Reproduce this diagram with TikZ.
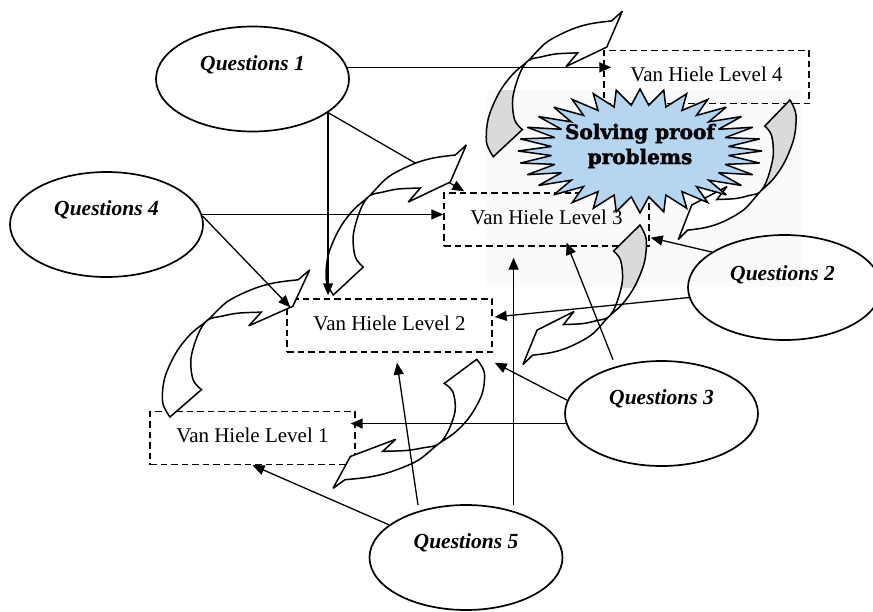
\documentclass[tikz,border=0pt]{standalone}
\usepackage{fontspec}
\setmainfont{Liberation Serif}
\newfontfamily\burstfont[FakeBold=2]{DejaVu Serif}
\usetikzlibrary{arrows.meta,shapes.geometric,calc}

\definecolor{burstblue}{RGB}{180,214,240}
\definecolor{hazegrey}{RGB}{250,250,250}
\definecolor{tailgrey}{RGB}{218,218,218}

% twisted ribbon arrow: tail cut at the origin, head up and to the right
\def\twistfull{(0,0) -- plot[smooth,tension=0.55] coordinates {(30,-28) (22,-38) (20,-60) (27,-85) (36,-99) (50,-103) (65,-106) (87,-107)}
  -- (75,-93) -- (117,-113) -- (133,-150)
  -- plot[smooth,tension=0.55] coordinates {(122,-140) (100,-137) (80,-131) (55,-118) (36,-99) (20,-85) (6,-66) (-5,-40) (-7,-15) (0,0)} -- cycle}
% the tail face of the ribbon, up to the twist
\def\twisttail{(0,0) -- plot[smooth,tension=0.55] coordinates {(30,-28) (22,-38) (20,-60) (27,-85) (36,-99)}
  -- plot[smooth,tension=0.55] coordinates {(36,-99) (20,-85) (6,-66) (-5,-40) (-7,-15) (0,0)} -- cycle}

\tikzset{
  conn/.style={line width=1.3pt, -{Triangle[length=12pt,width=10pt]}},
  lvl/.style={draw, line width=1.4pt, dash pattern=on 6.5pt off 4pt,
    minimum width=205pt, minimum height=53pt, inner sep=0pt,
    text height=14pt, text depth=4.6pt, font=\fontsize{21}{24}\selectfont},
  qell/.style={ellipse, draw, line width=1.7pt, minimum width=193pt,
    minimum height=105pt, inner sep=0pt},
  qtxt/.style={anchor=base, inner sep=0pt,
    font=\fontsize{21.5}{24}\selectfont\bfseries\itshape},
  band/.style={line width=1.5pt, line join=miter, miter limit=4},
}

\newcommand\plainband[1]{%
  \begin{scope}[#1]\fill[white]\twistfull;\draw[band]\twistfull;\end{scope}}
\newcommand\shadedband[1]{%
  \begin{scope}[#1]\fill[white]\twistfull;\end{scope}
  \begin{scope}\clip (487,90) rectangle (802,287);
    \begin{scope}[#1]\fill[tailgrey]\twisttail;\end{scope}\end{scope}
  \begin{scope}[#1]\draw[band]\twistfull;\end{scope}}

\begin{document}
\begin{tikzpicture}[x=1pt,y=-1pt]
\useasboundingbox (0,0) rectangle (873,611);
\clip (0,0) rectangle (873,611);
\fill[white] (0,0) rectangle (873,611);
\fill[hazegrey] (487,90) rectangle (802,287);

% van Hiele levels
\node[lvl] (l4) at (706.5,77) {Van Hiele Level 4};
\node[lvl] (l3) at (546.5,219.5) {Van Hiele Level 3};
\node[lvl] (l2) at (389.5,325.5) {Van Hiele Level 2};
\node[lvl] (l1) at (252.5,438) {Van Hiele Level 1};

% question groups
\node[qell] (q1) at (252.5,79) {};
\node[qell] (q4) at (106.5,224.5) {};
\node[qell] (q2) at (784.5,287.5) {};
\node[qell] (q3) at (661.5,413.5) {};
\node[qell] (q5) at (466,557.5) {};
\node[qtxt] (q1t) at ($(q1.center)+(0,-9)$) {Questions 1};
\node[qtxt] (q4t) at ($(q4.center)+(0,-9.5)$) {Questions 4};
\node[qtxt] (q2t) at ($(q2.center)+(-2,-7)$) {Questions 2};
\node[qtxt] (q3t) at ($(q3.center)+(0,-9.5)$) {Questions 3};
\node[qtxt] (q5t) at ($(q5.center)+(0,-9)$) {Questions 5};

% this connector runs under the ribbon from level 2 to level 3
\draw[conn] (q1.-24) -- ($(l3.north west)+(21,-1)$);

% ribbons climbing up the levels
\plainband{shift={(170,417)}, xscale=1.05, yscale=0.98}
\plainband{shift={(333.3,295)}}
\shadedband{shift={(493.3,156.7)}, xscale=0.97, yscale=0.97}
% ribbons coming back down
\shadedband{shift={(790,100)}, rotate=180, xscale=0.84, yscale=0.93}
\shadedband{shift={(640,225)}, rotate=180, xscale=0.88, yscale=0.93}
\plainband{shift={(476.7,359.3)}, rotate=180, xscale=1.08, yscale=0.86}

% connectors from the question groups
\draw[conn] (q1.7) -- ($(q1.7 -| l4.west)+(8,0)$);
\draw[conn] (q1.-24) -- ($(q1.-24 |- l2.north)+(0,-3)$);
\draw[conn] (q4.6) -- (q4.6 -| l3.west);
\draw[conn] (q4.5) -- ($(l2.north west)+(4,9)$);
\draw[conn] (q2.154) -- ($(l3.south east)+(1,-9)$);
\draw[conn] (q2.186) -- ($(l2.east)+(2,-8.5)$);
\draw[conn] ($(q3.north)+(-48.5,-0.5)$) -- ($(l3.south)+(20,-4)$);
\draw[conn] (q3.172) -- ($(l2.south east)+(2,10)$);
\draw[conn] (q3.186) -- ($(q3.186 -| l1.east)+(-5,0)$);
\draw[conn] (q5.157) -- (l1.south);
\draw[conn] ($(q5.north)+(-48,1)$) -- ($(l2.south)+(7.5,10)$);
\draw[conn] ($(q5.north)+(47.6,1)$) -- ($(l3.south)+(-32.9,11)$);

% 32-point seal
\filldraw[fill=burstblue, draw=black, line width=1.5pt, line join=miter, miter limit=4]
  plot[samples at={0,...,63}, variable=\k]
  ({640+(105.5+16.5*cos(\k*180))*cos(\k*5.625)}, {151+(54+8*cos(\k*180))*sin(\k*5.625)}) -- cycle;
\node[font=\burstfont\bfseries\fontsize{20}{25}\selectfont, align=center, inner sep=0pt]
  (burst) at (640,146) {Solving proof\\problems};
\end{tikzpicture}
\end{document}
